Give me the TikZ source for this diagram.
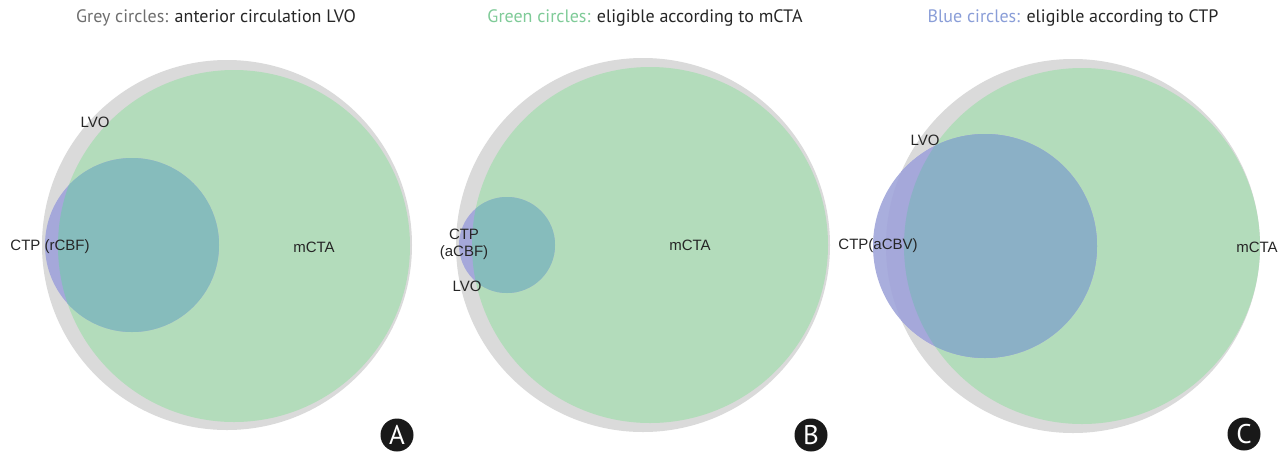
\documentclass[tikz,border=0pt]{standalone}
\usepackage{fontspec}
\setmainfont{Liberation Sans}
\newfontfamily\titlefont{PT Sans}
\usepackage{xcolor}
\usepackage{tikz}

\definecolor{lvogrey}{HTML}{DADADA}
\definecolor{ctagreen}{HTML}{B3DCBB}
\definecolor{ctpblue}{HTML}{A5A8DA}
\definecolor{ctpsoft}{HTML}{A9AEDD}
\definecolor{ctpteal}{HTML}{86BCBC}
\definecolor{ctpslate}{HTML}{8BB0C6}
\definecolor{greytext}{HTML}{6E6E6E}
\definecolor{greentext}{HTML}{7FCB98}
\definecolor{bluetext}{HTML}{8A9ED8}

\begin{document}
\begin{tikzpicture}[x=1pt, y=-1pt,
  title/.style={font=\titlefont\fontsize{18}{21}\selectfont, text=black!85},
  lbl/.style={font=\fontsize{15}{17}\selectfont, text=black!85, inner sep=0pt, align=center},
  badge/.style={circle, fill=black!90, text=white, minimum size=33pt, inner sep=0pt,
    font=\titlefont\fontsize{27}{27}\selectfont}]
\useasboundingbox (0,0) rectangle (1288,451);
\fill[white] (0,0) rectangle (1288,451);

% Panel A: LVO, mCTA and CTP (rCBF)
\fill[lvogrey] (227,245) circle (185pt);
\fill[ctagreen] (234,246) circle (176pt);
\fill[ctpblue] (132,245) circle (87pt);
\begin{scope}
  \clip (234,246) circle (176pt);
  \fill[ctpteal] (132,245) circle (87pt);
\end{scope}
\node[title] (titleA) at (216,18) {\textcolor{greytext}{Grey circles:} anterior circulation LVO};
\node[lbl] (lvoA) at (95,122) {LVO};
\node[lbl] (ctpA) at (50,247) {CTP (rCBF)};
\node[lbl] (mctaA) at (314,247) {mCTA};
\node[badge] (badgeA) at (397,435) {A};

% Panel B: LVO, mCTA and CTP (aCBF)
\fill[lvogrey] (643,245) circle (187pt);
\fill[ctagreen] (650,245) circle (178pt);
\fill[ctpblue] (507,245) circle (48pt);
\begin{scope}
  \clip (650,245) circle (178pt);
  \fill[ctpteal] (507,245) circle (48pt);
\end{scope}
\node[title] (titleB) at (645,18) {\textcolor{greentext}{Green circles:} eligible according to mCTA};
\node[lbl] (ctpB) at (464,244) {CTP\\(aCBF)};
\node[lbl] (lvoB) at (467,286) {LVO};
\node[lbl] (mctaB) at (690,245) {mCTA};
\node[badge] (badgeB) at (811,435) {B};

% Panel C: LVO, mCTA and CTP (aCBV)
\fill[lvogrey] (1073,246) circle (187pt);
\fill[ctagreen] (1082,246) circle (178pt);
\fill[ctpsoft] (985,246) circle (112pt);
\begin{scope}
  \clip (1073,246) circle (187pt);
  \fill[ctpblue] (985,246) circle (112pt);
\end{scope}
\begin{scope}
  \clip (1082,246) circle (178pt);
  \fill[ctpslate] (985,246) circle (112pt);
\end{scope}
\node[title] (titleC) at (1073,18) {\textcolor{bluetext}{Blue circles:} eligible according to CTP};
\node[lbl] (lvoC) at (925,140) {LVO};
\node[lbl] (ctpC) at (878,246) {CTP(aCBV)};
\node[lbl] (mctaC) at (1257,247) {mCTA};
\node[badge] (badgeC) at (1244,434) {C};

\end{tikzpicture}
\end{document}
